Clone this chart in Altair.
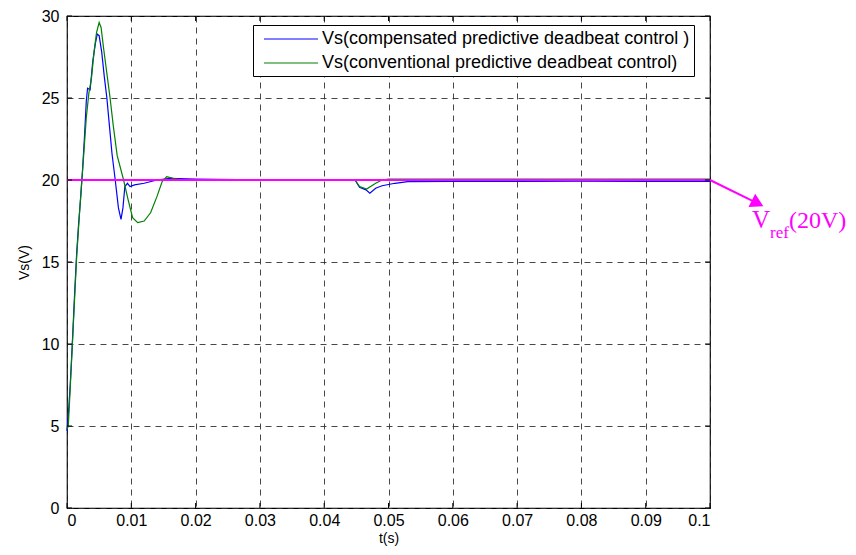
import altair as alt
import pandas as pd

# ---- data ----
blue_label = "Vs(compensated predictive deadbeat control )"
green_label = "Vs(conventional predictive deadbeat control)"

blue_t = [0, 0.0002, 0.0005, 0.0008, 0.001, 0.0012, 0.0015, 0.0018, 0.0021, 0.0024,
          0.0027, 0.003, 0.0032, 0.0036, 0.004, 0.0044, 0.0047, 0.005, 0.0054, 0.0058,
          0.0062, 0.0066, 0.007, 0.0075, 0.008, 0.0084, 0.0087, 0.009, 0.0094, 0.0098,
          0.0105, 0.012, 0.014, 0.016, 0.02, 0.03, 0.04, 0.0448, 0.0455, 0.0465,
          0.0471, 0.048, 0.049, 0.051, 0.053, 0.06, 0.07, 0.08, 0.09, 0.1]
blue_v = [4.7, 5.6, 7.5, 9.8, 11.5, 13.2, 15.5, 17.3, 18.8, 20.5,
          22.5, 24.8, 25.6, 25.5, 27.2, 28.3, 28.9, 28.8, 27.8, 26.3,
          25.0, 23.3, 21.6, 20.0, 18.3, 17.6, 18.3, 19.6, 19.8, 19.6,
          19.7, 19.8, 20.0, 20.1, 20.05, 20.0, 20.0, 20.0, 19.55, 19.4,
          19.2, 19.5, 19.65, 19.8, 19.9, 19.92, 19.92, 19.93, 19.92, 19.92]

green_t = [0, 0.0002, 0.0005, 0.001, 0.0015, 0.002, 0.0025, 0.003, 0.0034, 0.0038,
           0.0042, 0.0046, 0.005, 0.0053, 0.0057, 0.0062, 0.0067, 0.0072, 0.0078, 0.0088,
           0.0095, 0.0102, 0.011, 0.012, 0.013, 0.014, 0.0148, 0.0155, 0.0165, 0.018,
           0.03, 0.0448, 0.0455, 0.0466, 0.048, 0.049, 0.05, 0.07, 0.1]
green_v = [4.8, 5.0, 7.3, 11.3, 15.3, 18.3, 21.0, 23.8, 25.3, 26.2,
           27.8, 29.0, 29.6, 29.3, 28.0, 26.5, 25.0, 23.3, 21.5, 20.0,
           18.8, 17.7, 17.4, 17.5, 18.0, 19.0, 19.9, 20.2, 20.1, 20.0,
           20.0, 20.0, 19.6, 19.45, 19.8, 20.0, 20.05, 20.05, 20.05]

ref_t = [0, 0.1]
ref_v = [20, 20]
arrow_t = [0.1, 0.1074]
arrow_v = [20, 18.58]
arrow_tip_t = [0.1074]
arrow_tip_v = [18.58]

x_ticks = [0, 0.01, 0.02, 0.03, 0.04, 0.05, 0.06, 0.07, 0.08, 0.09, 0.1]
y_ticks = [0, 5, 10, 15, 20, 25, 30]

W, H = 643, 492
FONT = "Liberation Sans"
SERIF = "Liberation Serif"
MAGENTA = "#ff00ff"

blue_df = pd.DataFrame({"t": blue_t, "v": blue_v, "series": blue_label})
green_df = pd.DataFrame({"t": green_t, "v": green_v, "series": green_label})
ref_df = pd.DataFrame({"t": ref_t, "v": ref_v})
arrow_df = pd.DataFrame({"t": arrow_t, "v": arrow_v})
tip_df = pd.DataFrame({"t": arrow_tip_t, "v": arrow_tip_v})
xt_df = pd.DataFrame({"t": x_ticks})
yt_df = pd.DataFrame({"v": y_ticks})

xscale = alt.Scale(domain=[0, 0.1], nice=False, zero=False)
yscale = alt.Scale(domain=[0, 30], nice=False, zero=False)
color_scale = alt.Scale(domain=[blue_label, green_label], range=["#0000ff", "#008000"])

x_axis = alt.Axis(values=x_ticks, format="~g", title="t(s)", grid=True, ticks=False,
                  domain=False, labelPadding=4, titlePadding=3)
y_axis = alt.Axis(values=y_ticks, title="Vs(V)", grid=True, ticks=False,
                  domain=False, labelPadding=8, titlePadding=10)

legend = alt.Legend(title=None, orient="none", legendX=186, legendY=9,
                    symbolType="M-0.333,0H5.667", symbolSize=324, symbolStrokeWidth=1.2,
                    labelFont=FONT, labelFontSize=18, labelLimit=600,
                    strokeColor="black", fillColor="white", padding=4,
                    rowPadding=5, labelOffset=45, cornerRadius=0)

base_x = alt.X("t:Q", scale=xscale, axis=x_axis)
base_y = alt.Y("v:Q", scale=yscale, axis=y_axis)

blue = alt.Chart(blue_df).mark_line(strokeWidth=1.2).encode(
    x=base_x, y=base_y,
    color=alt.Color("series:N", scale=color_scale, legend=legend))
green = alt.Chart(green_df).mark_line(strokeWidth=1.2).encode(
    x="t:Q", y="v:Q",
    color=alt.Color("series:N", scale=color_scale, legend=legend))

ref = alt.Chart(ref_df).mark_line(color=MAGENTA, strokeWidth=2).encode(x="t:Q", y="v:Q")
arrow = alt.Chart(arrow_df).mark_line(color=MAGENTA, strokeWidth=2, clip=False).encode(x="t:Q", y="v:Q")
tip = alt.Chart(tip_df).mark_point(shape="triangle-right", filled=True, color=MAGENTA,
                                   size=220, angle=27, opacity=1, clip=False).encode(x="t:Q", y="v:Q")

txt_v = alt.Chart(tip_df).mark_text(text="V", font=SERIF, fontSize=25,
                                    color=MAGENTA, align="left", baseline="alphabetic",
                                    dx=-5.6, dy=24.6, clip=False).encode(x="t:Q", y="v:Q")
txt_ref = alt.Chart(tip_df).mark_text(text="ref", font=SERIF, fontSize=17,
                                      color=MAGENTA, align="left", baseline="alphabetic",
                                      dx=12.4, dy=34.5, clip=False).encode(x="t:Q", y="v:Q")
txt_20 = alt.Chart(tip_df).mark_text(text="(20V)", font=SERIF, fontSize=24,
                                     color=MAGENTA, align="left", baseline="alphabetic",
                                     dx=31.4, dy=24.6, clip=False).encode(x="t:Q", y="v:Q")

tick_len = 5
xt_bottom = alt.Chart(xt_df).mark_rule(color="black", strokeWidth=1).encode(
    x="t:Q", y=alt.value(H), y2=alt.value(H - tick_len))
xt_top = alt.Chart(xt_df).mark_rule(color="black", strokeWidth=1).encode(
    x="t:Q", y=alt.value(0), y2=alt.value(tick_len))
yt_left = alt.Chart(yt_df).mark_rule(color="black", strokeWidth=1).encode(
    y="v:Q", x=alt.value(0), x2=alt.value(tick_len))
yt_right = alt.Chart(yt_df).mark_rule(color="black", strokeWidth=1).encode(
    y="v:Q", x=alt.value(W), x2=alt.value(W - tick_len))

chart = alt.layer(
    blue, green, ref, arrow, tip, txt_v, txt_ref, txt_20,
    xt_bottom, xt_top, yt_left, yt_right
).properties(
    width=W, height=H,
    autosize=alt.AutoSizeParams(type="none"),
    padding={"left": 59, "top": 8, "right": 138, "bottom": 39},
    background="white",
).configure_view(
    stroke="black", strokeWidth=1.2
).configure_axis(
    gridColor="#333333", gridDash=[6, 5], gridWidth=0.9, gridOpacity=1,
    labelFont=FONT, labelFontSize=16, labelColor="black",
    titleFont=FONT, titleFontSize=14, titleFontWeight="normal", titleColor="black",
)

chart.save("out.html", embed_options={"renderer": "svg", "actions": False})
